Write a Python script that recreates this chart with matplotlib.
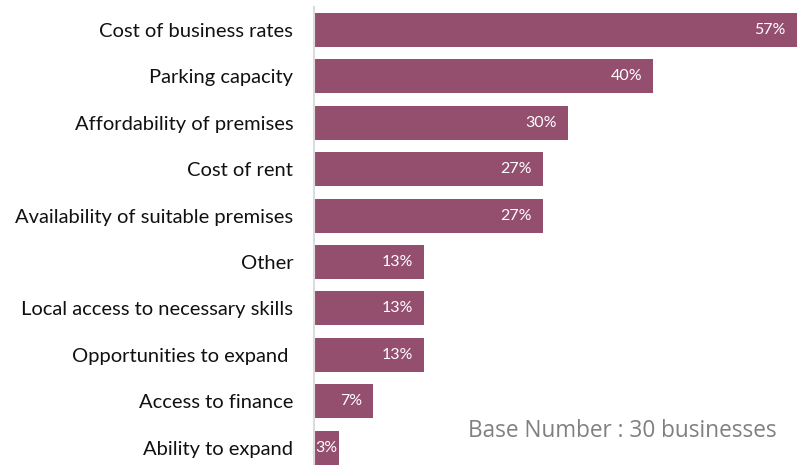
import matplotlib.pyplot as plt
from matplotlib.transforms import offset_copy

categories = [
    'Cost of business rates',
    'Parking capacity',
    'Affordability of premises',
    'Cost of rent',
    'Availability of suitable premises',
    'Other',
    'Local access to necessary skills',
    'Opportunities to expand ',
    'Access to finance',
    'Ability to expand',
]
values = [57, 40, 30, 27, 27, 13, 13, 13, 7, 3]
base_note = 'Base Number : 30 businesses'

bar_color = '#944f6f'

W, H = 804, 465
fig = plt.figure(figsize=(W / 100, H / 100), dpi=100)

# axes placed in pixel terms: value axis at x=314, rows 46.4 px apart
left, right = 314, 797
top, row = 6.8, 46.4
height = row * len(categories)
ax = fig.add_axes([left / W, (H - top - height) / H, (right - left) / W, height / H])

ypos = list(range(len(categories)))
ax.barh(ypos, values, height=0.733, color=bar_color, zorder=2)

ax.set_xlim(0, 57)
ax.set_ylim(len(categories) - 0.5, -0.5)
ax.set_yticks(ypos)
ax.set_yticklabels(categories, fontsize=14.5, family='Lato', color='#111111')
ax.tick_params(axis='y', length=0, pad=15)
ax.set_xticks([])

for side in ('top', 'right', 'bottom'):
    ax.spines[side].set_visible(False)
ax.spines['left'].set_color('#dcdcdc')
ax.spines['left'].set_linewidth(1.5)
ax.spines['left'].set_zorder(3)

for y, v in zip(ypos, values):
    if v >= 5:
        tr = offset_copy(ax.transData, fig=fig, x=-11, y=0, units='dots')
        ax.text(v, y, '%d%%' % v, transform=tr, ha='right', va='center',
                color='white', fontsize=11.5, family='Lato', zorder=4)
    else:
        tr = offset_copy(ax.transData, fig=fig, x=1, y=0, units='dots')
        ax.text(0, y, '%d%%' % v, transform=tr, ha='left', va='center',
                color='white', fontsize=11.5, family='Lato', zorder=4)

fig.text(777 / W, 1 - 431 / H, base_note, ha='right', va='center',
         fontsize=16.3, family='Open Sans', color='#808080')

fig.savefig('out.png', dpi=100)
